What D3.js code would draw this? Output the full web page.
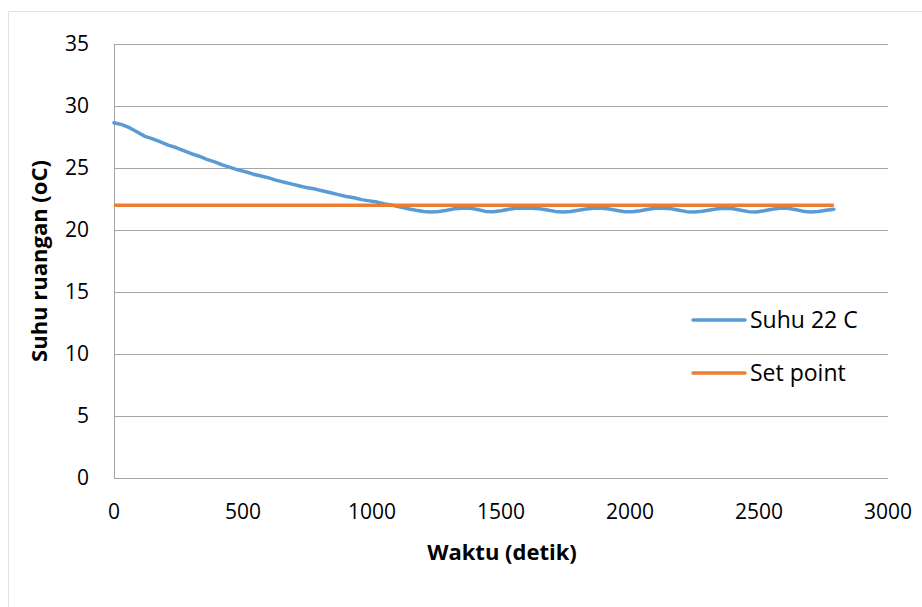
<!DOCTYPE html>
<html><head><meta charset="utf-8">
<script src="https://cdn.jsdelivr.net/npm/d3@7"></script>
<style>body{margin:0;background:#fff}svg{display:block}text{font-family:"Open Sans",Lato,sans-serif}</style>
</head><body>
<script>
const times = [0,30,60,90,120,150,180,210,240,270,300,330,360,390,420,450,480,510,540,570,600,630,660,690,720,750,780,810,840,870,900,930,960,990,1020,1050,1080,1110,1140,1170,1200,1230,1260,1290,1320,1350,1380,1410,1440,1470,1500,1530,1560,1590,1620,1650,1680,1710,1740,1770,1800,1830,1860,1890,1920,1950,1980,2010,2040,2070,2100,2130,2160,2190,2220,2250,2280,2310,2340,2370,2400,2430,2460,2490,2520,2550,2580,2610,2640,2670,2700,2730,2760,2790];
const suhu = [28.65,28.5,28.25,27.9,27.55,27.35,27.1,26.85,26.65,26.4,26.15,25.95,25.7,25.5,25.25,25.05,24.85,24.7,24.5,24.35,24.2,24.0,23.85,23.7,23.55,23.4,23.3,23.15,23.0,22.85,22.7,22.6,22.45,22.35,22.25,22.1,22.0,21.85,21.72,21.6,21.5,21.45,21.5,21.6,21.72,21.75,21.75,21.65,21.5,21.48,21.55,21.68,21.75,21.75,21.75,21.72,21.62,21.5,21.45,21.5,21.6,21.7,21.75,21.75,21.7,21.58,21.47,21.47,21.55,21.68,21.75,21.75,21.72,21.6,21.48,21.45,21.52,21.62,21.72,21.75,21.72,21.6,21.48,21.46,21.55,21.68,21.75,21.75,21.65,21.52,21.45,21.5,21.6,21.68];
const setPointTimes = [0, 2790];
const setPointValues = [22, 22];
const xTicks = [0,500,1000,1500,2000,2500,3000];
const yTicks = [0,5,10,15,20,25,30,35];
const seriesNames = ["Suhu 22 C","Set point"];
const colors = ["#5B9BD5","#ED7D31"];

const W=922,H=607;
const svg=d3.select("body").append("svg").attr("width",W).attr("height",H);
svg.append("path").attr("d",`M8.5,${H}V11.5H${W}`).attr("fill","none").attr("stroke","#E3E3E3").attr("stroke-width",1);

const x=d3.scaleLinear().domain([0,3000]).range([114,888]);
const y=d3.scaleLinear().domain([0,35]).range([478,44]);

svg.append("g").selectAll("line").data(yTicks.filter(d=>d>0)).join("line")
 .attr("x1",114).attr("x2",888).attr("y1",d=>Math.round(y(d))+0.5).attr("y2",d=>Math.round(y(d))+0.5)
 .attr("stroke","#A6A6A6").attr("stroke-width",1);
svg.append("line").attr("x1",114.5).attr("x2",114.5).attr("y1",44).attr("y2",478.5).attr("stroke","#A6A6A6");
svg.append("line").attr("x1",114).attr("x2",888).attr("y1",478.5).attr("y2",478.5).attr("stroke","#A6A6A6");

svg.append("g").selectAll("text").data(yTicks).join("text")
 .attr("x",89).attr("y",d=>y(d)).attr("dy","0.35em").attr("text-anchor","end")
 .attr("font-size",21).attr("fill","#000").text(d=>d);
svg.append("g").selectAll("text").data(xTicks).join("text")
 .attr("x",d=>x(d)).attr("y",512).attr("dy","0.35em").attr("text-anchor","middle")
 .attr("font-size",21).attr("fill","#000").text(d=>d);

svg.append("text").attr("x",502).attr("y",552).attr("dy","0.35em").attr("text-anchor","middle")
 .attr("font-size",22).attr("font-weight","bold").text("Waktu (detik)");
svg.append("text").attr("transform","translate(39,261) rotate(-90)").attr("dy","0.35em").attr("text-anchor","middle")
 .attr("font-size",22).attr("font-weight","bold").text("Suhu ruangan (oC)");

const line=d3.line().x(d=>x(d[0])).y(d=>y(d[1]));
const spData=setPointTimes.map((t,i)=>[t,setPointValues[i]]);
const suhuData=times.map((t,i)=>[t,suhu[i]]);
svg.append("path").datum(suhuData).attr("d",line).attr("fill","none").attr("stroke",colors[0]).attr("stroke-width",3.5).attr("stroke-linejoin","round").attr("stroke-linecap","round");
svg.append("path").datum(spData).attr("d",line).attr("fill","none").attr("stroke",colors[1]).attr("stroke-width",3.5);

const lg=svg.append("g");
const ly=[320,373];
seriesNames.forEach((n,i)=>{
  lg.append("line").attr("x1",693).attr("x2",745).attr("y1",ly[i]).attr("y2",ly[i]).attr("stroke",colors[i]).attr("stroke-width",3.5).attr("stroke-linecap","round");
  lg.append("text").attr("x",750).attr("y",ly[i]).attr("dy","0.35em").attr("font-size",23).text(n);
});
</script>
</body></html>
